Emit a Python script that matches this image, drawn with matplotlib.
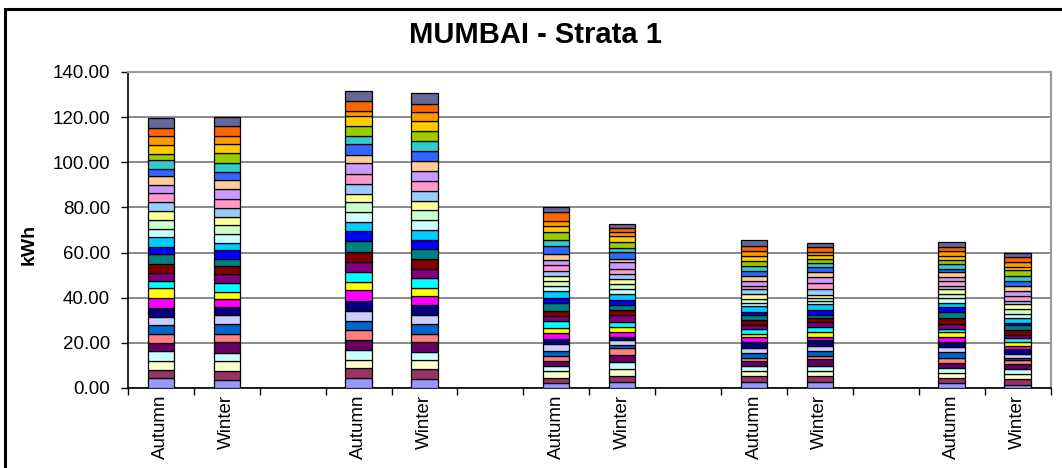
import numpy as np
import matplotlib
matplotlib.use("Agg")
import matplotlib.pyplot as plt
from matplotlib.patches import Rectangle

# x categories (Excel leaves empty categories between the city groups)
categories = ["Autumn", "Winter", "", "Autumn", "Winter", "", "Autumn", "Winter", "",
              "Autumn", "Winter", "", "Autumn", "Winter"]

# Excel 2003 default series colours, bottom of the stack first
series_colors = ["#9999FF", "#993366", "#FFFFCC", "#CCFFFF", "#660066", "#FF8080",
                 "#0066CC", "#CCCCFF", "#000080", "#FF00FF", "#FFFF00", "#00FFFF",
                 "#800080", "#800000", "#008080", "#0000FF", "#00CCFF", "#CCFFFF",
                 "#CCFFCC", "#FFFF99", "#99CCFF", "#FF99CC", "#CC99FF", "#FFCC99",
                 "#3366FF", "#33CCCC", "#99CC00", "#FFCC00", "#FF9900", "#FF6600",
                 "#666699"]

# segment values (kWh) per bar, bottom to top
g1_autumn = [4.4, 3.7, 3.7, 4.6, 3.7, 3.7, 4.0, 3.7, 4.0, 4.4, 4.4, 3.1, 3.7, 3.7, 4.4, 3.2,
             4.4, 3.7, 4.0, 3.8, 4.3, 3.7, 3.8, 4.0, 3.0, 3.7, 3.0, 4.0, 3.7, 3.8, 4.4]
g1_winter = [3.7, 3.7, 4.6, 3.7, 4.7, 3.4, 4.4, 4.0, 3.7, 3.7, 3.0, 4.0, 3.8, 3.7, 3.0, 4.0,
             3.0, 4.0, 4.1, 3.7, 4.0, 3.8, 4.4, 4.0, 3.7, 4.0, 4.1, 4.0, 3.7, 4.6, 3.7]
g2_autumn = [4.4, 4.4, 3.8, 4.4, 4.4, 4.4, 4.0, 4.4, 4.4, 4.7, 3.7, 4.6, 4.4, 4.4, 4.7, 4.4,
             4.0, 4.4, 4.4, 3.8, 4.4, 4.4, 4.7, 3.7, 4.7, 3.7, 4.4, 4.4, 2.4, 4.4, 4.3]
g2_winter = [3.8, 4.4, 4.0, 3.7, 4.4, 3.7, 4.4, 4.0, 4.4, 3.8, 3.7, 4.4, 4.0, 4.4, 4.4, 4.0,
             4.4, 4.6, 4.4, 4.0, 4.4, 4.4, 4.4, 4.4, 4.4, 4.4, 4.4, 4.7, 3.7, 3.8, 4.7]
g3_autumn = [2.2, 2.2, 3.0, 2.2, 2.4, 2.2, 2.2, 3.0, 2.4, 2.4, 2.2, 3.1, 2.4, 2.2, 3.7, 2.2,
             3.0, 2.2, 2.2, 2.2, 2.4, 2.4, 2.4, 2.7, 3.2, 3.0, 3.2, 2.7, 2.5, 3.7, 2.2]
g3_winter = [2.7, 2.7, 3.0, 3.0, 3.0, 3.2, 1.5, 2.2, 1.5, 2.2, 2.2, 2.2, 3.0, 2.2, 2.2, 2.2,
             2.5, 2.4, 2.2, 2.2, 2.2, 2.2, 3.0, 1.5, 3.2, 1.5, 3.0, 2.5, 1.6, 1.8, 1.8]
g4_autumn = [2.7, 2.5, 2.2, 2.2, 2.4, 1.5, 2.2, 2.2, 2.5, 2.2, 1.2, 2.5, 1.5, 2.2, 2.2, 1.5,
             2.5, 1.6, 1.5, 2.2, 2.2, 1.5, 2.2, 2.2, 2.2, 2.2, 2.2, 2.5, 2.2, 2.2, 2.5]
g4_winter = [2.7, 2.5, 2.2, 2.4, 3.0, 1.5, 2.2, 2.2, 2.5, 1.5, 2.2, 2.2, 2.2, 1.8, 1.2, 2.2,
             2.5, 1.6, 1.3, 1.5, 2.4, 2.8, 2.4, 2.2, 2.5, 1.5, 1.9, 1.8, 1.5, 2.2, 1.5]
g5_autumn = [2.2, 2.2, 2.2, 2.2, 2.4, 2.2, 2.5, 2.2, 2.2, 2.2, 2.2, 1.5, 2.2, 2.5, 2.7, 2.2,
             1.8, 2.2, 1.9, 2.2, 1.5, 2.2, 1.5, 2.2, 1.5, 2.2, 1.9, 1.8, 1.8, 1.9, 2.2]
g5_winter = [1.5, 2.4, 2.2, 2.2, 2.2, 1.8, 1.2, 1.5, 2.2, 1.5, 1.8, 1.5, 1.5, 2.2, 2.2, 1.0,
             2.2, 1.5, 2.2, 2.4, 1.3, 2.2, 2.4, 2.2, 2.2, 2.2, 2.5, 1.5, 2.2, 2.2, 1.5]

bars = [g1_autumn, g1_winter, None, g2_autumn, g2_winter, None, g3_autumn, g3_winter, None,
        g4_autumn, g4_winter, None, g5_autumn, g5_winter]

n_series = len(series_colors)
data = np.zeros((n_series, len(categories)))
for j, b in enumerate(bars):
    if b is not None:
        data[:, j] = b

plt.rcParams['font.family'] = ['Liberation Sans', 'DejaVu Sans']

fig = plt.figure(figsize=(10.62, 4.68), dpi=100)
ax = fig.add_axes([128 / 1062, 1 - 388 / 468, (1050.5 - 128) / 1062, (388 - 72) / 468])

x = np.arange(len(categories))
bottom = np.zeros(len(categories))
for i in range(n_series):
    vals = data[i]
    mask = vals > 0
    ax.bar(x[mask], vals[mask], 0.4, bottom=bottom[mask], color=series_colors[i],
           edgecolor='black', linewidth=0.9, zorder=3)
    bottom += vals

ax.set_xlim(-0.5, len(categories) - 0.5)
ax.set_ylim(0, 140)
ax.set_yticks(np.arange(0, 141, 20))
ax.set_yticklabels(["%.2f" % v for v in np.arange(0, 141, 20)], fontsize=13.5)
ax.yaxis.grid(True, color='#808080', linewidth=1.3, zorder=0)
ax.set_axisbelow(True)

# ticks between categories, labels at the centres
ax.set_xticks(np.arange(-0.5, len(categories), 1.0))
ax.set_xticklabels([])
ax.set_xticks(x, minor=True)
ax.set_xticklabels(categories, minor=True, rotation=90, fontsize=13.5)
ax.tick_params(axis='x', which='major', direction='out', length=5, width=1, color='black')
ax.tick_params(axis='x', which='minor', length=0, pad=5)
ax.tick_params(axis='y', direction='out', length=5, width=1, pad=8)

for side in ['top', 'right']:
    ax.spines[side].set_color('#999999')
    ax.spines[side].set_linewidth(1.5)
for side in ['left', 'bottom']:
    ax.spines[side].set_color('black')
    ax.spines[side].set_linewidth(1.2)

ax.set_ylabel('kWh', fontsize=14, fontweight='bold')
ax.yaxis.set_label_coords(38 / 1062, 1 - 244 / 468, transform=fig.transFigure)

fig.text(535 / 1062, 1 - 35 / 468, 'MUMBAI - Strata 1', ha='center', va='center',
         fontsize=21, fontweight='bold')

# outer chart border (cropped at right and bottom)
fig.patches.append(Rectangle((5 / 1062, -0.1), 1.2, 1.1 - 9 / 468, transform=fig.transFigure,
                             fill=False, edgecolor='black', linewidth=2.2, clip_on=False))

fig.savefig('out.png', dpi=100)
